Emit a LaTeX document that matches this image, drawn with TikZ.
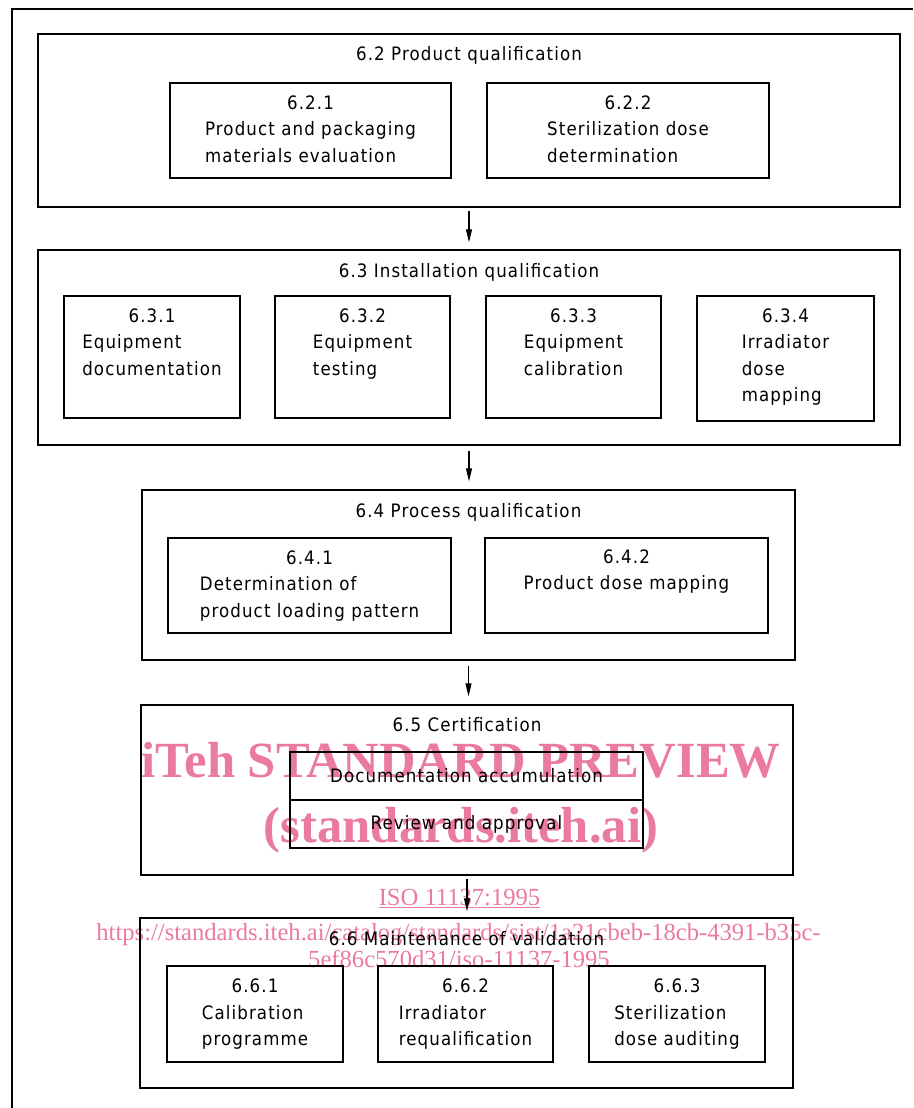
\documentclass[tikz,border=0pt]{standalone}
\usepackage{fontspec}
\setmainfont{DejaVu Sans Condensed}[LetterSpace=6]
\newfontfamily\wmfont{Liberation Serif}
\usetikzlibrary{arrows.meta,fit}
\definecolor{wmpink}{RGB}{234,122,160}
\newcommand\numtab[2]{\begin{tabular}{@{}l@{}}\multicolumn{1}{@{}c@{}}{#1}\\#2\end{tabular}}
\begin{document}
\begin{tikzpicture}[x=1pt,y=-1pt,
  box/.style={draw=black, line width=1.4pt, inner sep=0pt},
  lbl/.style={inner sep=0pt, font=\fontsize{18.5}{26.5}\selectfont},
  arr/.style={line width=1.1pt, -{Triangle[length=13pt,width=6pt]}},
  frame/.style={line width=1.3pt},
  wmbig/.style={inner sep=0pt, text=wmpink, font=\wmfont\bfseries\fontsize{50.7}{52}\selectfont},
  wmsmall/.style={inner sep=0pt, text=wmpink, font=\wmfont\fontsize{24.6}{26}\selectfont}
]
\useasboundingbox (0,0) rectangle (913,1108);
% outer frame
\coordinate (fTR) at (913,9);
\coordinate (fTL) at (12,9);
\coordinate (fBL) at (12,1108);
\draw[frame] (fTR) -- (fTL) -- (fBL);

% watermark
\node[wmbig, anchor=base] (wm1) at (461,777) {iTeh STANDARD PREVIEW};
\node[wmbig, anchor=base] (wm2) at (461,842) {(standards.iteh.ai)};
\node[wmsmall, anchor=base] (wm3) at (459.5,905) {\underline{ISO 11137:1995}};
\node[wmsmall, anchor=base] (wm4) at (458.5,940) {https://standards.iteh.ai/catalog/standards/sist/1a21cbeb-18cb-4391-b35c-};
\node[wmsmall, anchor=base] (wm5) at (459,967) {5ef86c570d31/iso-11137-1995};

% 6.2
\node[box, fit={(38,34) (900,207)}] (b62) {};
\node[lbl, anchor=base] (t62) at (469,61) {6.2 Product qualification};
\node[box, fit={(170,83) (451,178)}] (b621) {};
\node[lbl] (t621) at (b621.center) {\numtab{6.2.1}{Product and packaging\\materials evaluation}};
\node[box, fit={(487,83) (769,178)}] (b622) {};
\node[lbl] (t622) at (b622.center) {\numtab{6.2.2}{Sterilization dose\\determination}};

% 6.3
\node[box, fit={(38,250) (900,445)}] (b63) {};
\node[lbl, anchor=base] (t63) at (469,277) {6.3 Installation qualification};
\node[box, fit={(64,296) (240,418)}] (b631) {};
\node[lbl, anchor=north] (t631) at ([yshift=-8pt]b631.north) {\numtab{6.3.1}{Equipment\\documentation}};
\node[box, fit={(275,296) (450,418)}] (b632) {};
\node[lbl, anchor=north] (t632) at ([yshift=-8pt]b632.north) {\numtab{6.3.2}{Equipment\\testing}};
\node[box, fit={(486,296) (661,418)}] (b633) {};
\node[lbl, anchor=north] (t633) at ([yshift=-8pt]b633.north) {\numtab{6.3.3}{Equipment\\calibration}};
\node[box, fit={(697,296) (874,421)}] (b634) {};
\node[lbl, anchor=north] (t634) at ([yshift=-8pt]b634.north) {\numtab{6.3.4}{Irradiator\\dose\\mapping}};

% 6.4
\node[box, fit={(142,490) (795,660)}] (b64) {};
\node[lbl, anchor=base] (t64) at (468.5,517) {6.4 Process qualification};
\node[box, fit={(168,538) (451,633)}] (b641) {};
\node[lbl] (t641) at (b641.center) {\numtab{6.4.1}{Determination of\\product loading pattern}};
\node[box, fit={(485,538) (768,633)}] (b642) {};
\node[lbl, anchor=north] (t642) at ([yshift=-7pt]b642.north) {\numtab{6.4.2}{Product dose mapping}};

% 6.5
\node[box, fit={(141,705) (793,875)}] (b65) {};
\node[lbl, anchor=base] (t65) at (467,731) {6.5 Certification};
\node[box, fit={(290,752) (643,800)}] (b651) {};
\node[lbl] (t651) at (b651.center) {Documentation accumulation};
\node[box, fit={(290,800) (643,848)}] (b652) {};
\node[lbl] (t652) at (b652.center) {Review and approval};

% 6.6
\node[box, fit={(140,918) (793,1088)}] (b66) {};
\node[lbl, anchor=base] (t66) at (466.5,945) {6.6 Maintenance of validation};
\node[box, fit={(167,966) (343,1062)}] (b661) {};
\node[lbl] (t661) at (b661.center) {\numtab{6.6.1}{Calibration\\programme}};
\node[box, fit={(378,966) (553,1062)}] (b662) {};
\node[lbl] (t662) at (b662.center) {\numtab{6.6.2}{Irradiator\\requalification}};
\node[box, fit={(589,966) (765,1062)}] (b663) {};
\node[lbl] (t663) at (b663.center) {\numtab{6.6.3}{Sterilization\\dose auditing}};

% arrows
\draw[arr, shorten <=3pt, shorten >=7pt] (b62.south) -- (b62.south |- b63.north);
\draw[arr, shorten <=5pt, shorten >=8pt] (b63.south) -- (b63.south |- b64.north);
\draw[arr, shorten <=5pt, shorten >=8pt] (b64.south) -- (b64.south |- b65.north);
\draw[arr, shorten <=3pt, shorten >=6pt] (b65.south) -- (b65.south |- b66.north);
\end{tikzpicture}
\end{document}
